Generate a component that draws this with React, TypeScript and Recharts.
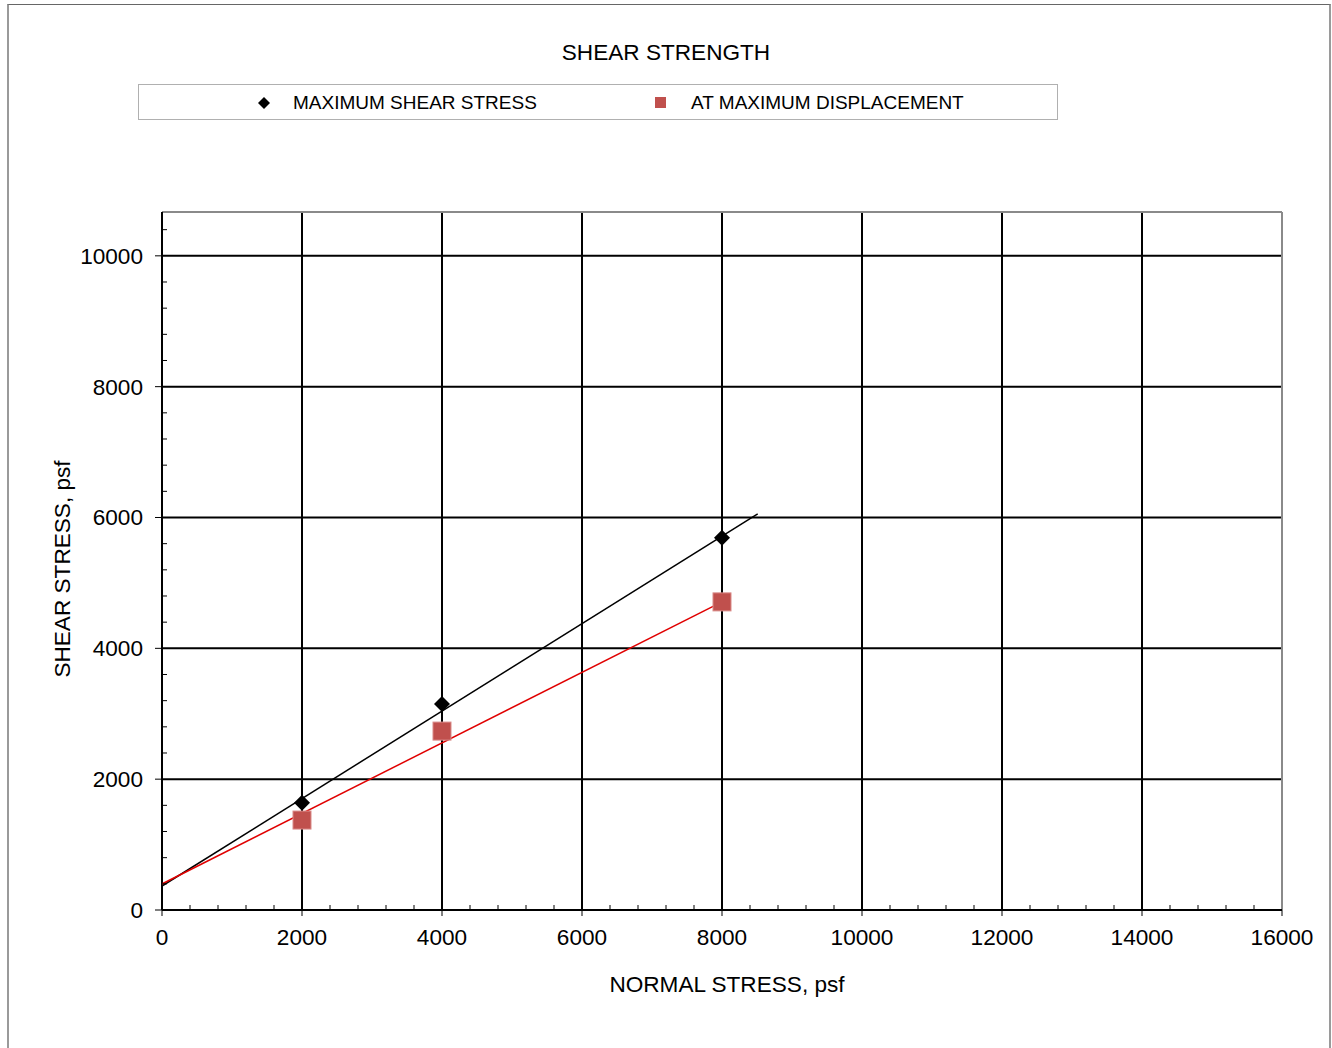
import { ScatterChart, Scatter, XAxis, YAxis, ReferenceLine } from "recharts";

const FONT = "'Liberation Sans', Arial, sans-serif";
const FS = 22.6;

// measured points (normal stress, shear stress) in psf
const maxShear = [
  { x: 2000, y: 1640 },
  { x: 4000, y: 3150 },
  { x: 8000, y: 5690 },
];
const atMaxDisp = [
  { x: 2000, y: 1375 },
  { x: 4000, y: 2735 },
  { x: 8000, y: 4710 },
];

// best-fit lines
const maxShearFit = [
  { x: 0, y: 367 },
  { x: 8510, y: 6055 },
];
const atMaxDispFit = [
  { x: 0, y: 398 },
  { x: 8000, y: 4710 },
];

const xMajor = [2000, 4000, 6000, 8000, 10000, 12000, 14000];
const yMajor = [2000, 4000, 6000, 8000, 10000];
const xTicks = Array.from({ length: 41 }, (_, i) => i * 400);
const yTicks = Array.from({ length: 27 }, (_, i) => i * 400);
const X_MAX = 16000;
const Y_MAX = 10670;

const XTick = (props: any) => {
  const { x, y, payload } = props;
  const v = payload.value;
  if (v % 2000 !== 0) return <line x1={x} x2={x} y1={y} y2={y - 5} stroke="#000" strokeWidth={1} />;
  return (
    <g>
      <line x1={x} x2={x} y1={y} y2={y + 6} stroke="#000" strokeWidth={1} />
      <text x={x} y={y + 35} textAnchor="middle" fontSize={FS} fontFamily={FONT} fill="#000">
        {v}
      </text>
    </g>
  );
};

const YTick = (props: any) => {
  const { x, y, payload } = props;
  const v = payload.value;
  if (v % 2000 !== 0) return <line x1={x} x2={x + 5} y1={y} y2={y} stroke="#000" strokeWidth={1} />;
  return (
    <g>
      <line x1={x - 7} x2={x} y1={y} y2={y} stroke="#000" strokeWidth={1} />
      <text x={x - 19} y={y + 8} textAnchor="end" fontSize={FS} fontFamily={FONT} fill="#000">
        {v}
      </text>
    </g>
  );
};

const Diamond = (props: any) => {
  const { cx, cy } = props;
  const r = 8;
  return <polygon points={`${cx},${cy - r} ${cx + r},${cy} ${cx},${cy + r} ${cx - r},${cy}`} fill="#000" />;
};

const Square = (props: any) => {
  const { cx, cy } = props;
  return <rect x={cx - 9} y={cy - 9} width={18} height={18} fill="#C0504D" stroke="#d98a88" strokeWidth={1} />;
};

const NoDot = () => <g />;

export default function App() {
  return (
    <div style={{ position: "absolute", left: 0, top: 0, width: 1332, height: 1048, background: "#fff", fontFamily: FONT, overflow: "hidden" }}>
      <div style={{ position: "absolute", left: 7, top: 4, width: 1320, height: 1080, borderTop: "1px solid #666", borderLeft: "2px solid #9a9a9a", borderRight: "2px solid #9a9a9a" }} />
      <div style={{ position: "absolute", left: 0, width: 1332, top: 40, textAlign: "center", fontSize: FS, color: "#000" }}>
        SHEAR STRENGTH
      </div>
      <div style={{ position: "absolute", left: 138, top: 84, width: 918, height: 34, border: "1px solid #b0b0b0", fontSize: 19, color: "#000" }}>
        <svg style={{ position: "absolute", left: 117, top: 10 }} width={16} height={16}>
          <polygon points="8,2 14,8 8,14 2,8" fill="#000" />
        </svg>
        <span style={{ position: "absolute", left: 154, top: 7 }}>MAXIMUM SHEAR STRESS</span>
        <div style={{ position: "absolute", left: 516, top: 12, width: 11, height: 11, background: "#C0504D" }} />
        <span style={{ position: "absolute", left: 552, top: 7 }}>AT MAXIMUM DISPLACEMENT</span>
      </div>
      <div style={{ position: "absolute", left: 0, top: 0 }}>
        <ScatterChart width={1332} height={1048} margin={{ top: 212, right: 50, left: 0, bottom: 0 }}>
          <XAxis
            type="number"
            dataKey="x"
            domain={[0, X_MAX]}
            ticks={xTicks}
            interval={0}
            tick={<XTick />}
            tickSize={0}
            tickMargin={0}
            tickLine={false}
            height={138}
            axisLine={{ stroke: "#000", strokeWidth: 2 }}
            allowDataOverflow
            label={{
              content: (p: any) => {
                const vb = p.viewBox;
                return (
                  <text x={vb.x + vb.width / 2 + 5} y={vb.y + 82} textAnchor="middle" fontSize={FS} fontFamily={FONT} fill="#000">
                    NORMAL STRESS, psf
                  </text>
                );
              },
            }}
          />
          <YAxis
            type="number"
            dataKey="y"
            domain={[0, Y_MAX]}
            ticks={yTicks}
            interval={0}
            tick={<YTick />}
            tickSize={0}
            tickMargin={0}
            tickLine={false}
            width={162}
            axisLine={{ stroke: "#000", strokeWidth: 2 }}
            allowDataOverflow
            label={{
              content: (p: any) => {
                const vb = p.viewBox;
                const cy = vb.y + vb.height / 2 + 8;
                return (
                  <text x={70} y={cy} transform={`rotate(-90 70 ${cy})`} textAnchor="middle" fontSize={FS} fontFamily={FONT} fill="#000">
                    SHEAR STRESS, psf
                  </text>
                );
              },
            }}
          />
          {xMajor.map((v) => (
            <ReferenceLine key={"vx" + v} x={v} stroke="#000" strokeWidth={2} />
          ))}
          {yMajor.map((v) => (
            <ReferenceLine key={"hy" + v} y={v} stroke="#000" strokeWidth={2} />
          ))}
          <ReferenceLine y={Y_MAX} stroke="#8a8a8a" strokeWidth={2} />
          <ReferenceLine x={X_MAX} stroke="#8a8a8a" strokeWidth={2} />
          <Scatter data={maxShearFit} line={{ stroke: "#000", strokeWidth: 1.5 }} shape={<NoDot />} isAnimationActive={false} legendType="none" />
          <Scatter data={atMaxDispFit} line={{ stroke: "#e00000", strokeWidth: 1.5 }} shape={<NoDot />} isAnimationActive={false} legendType="none" />
          <Scatter data={maxShear} shape={<Diamond />} isAnimationActive={false} />
          <Scatter data={atMaxDisp} shape={<Square />} isAnimationActive={false} />
        </ScatterChart>
      </div>
    </div>
  );
}
